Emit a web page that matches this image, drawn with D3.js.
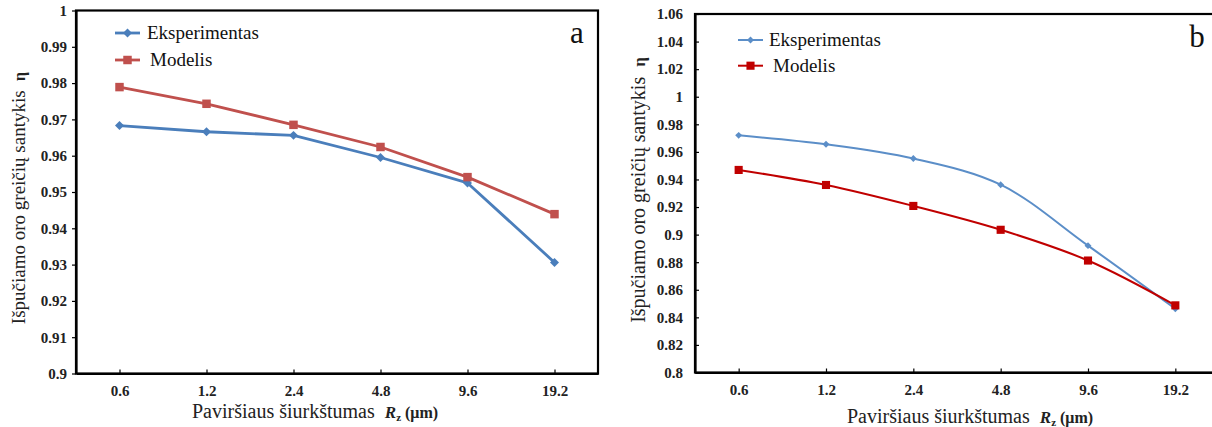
<!DOCTYPE html>
<html>
<head>
<meta charset="utf-8">
<script src="https://cdn.jsdelivr.net/npm/d3@7/dist/d3.min.js"></script>
<style>
  html, body { margin: 0; padding: 0; background: #fff; }
  svg { display: block; }
</style>
</head>
<body>
<svg id="chart" width="1212" height="427"></svg>
<script>
// ---- data ----
const categories = ["0.6", "1.2", "2.4", "4.8", "9.6", "19.2"];
const expA = [0.9683, 0.9666, 0.9656, 0.9595, 0.9525, 0.9306];
const modA = [0.9789, 0.9743, 0.9685, 0.9624, 0.9541, 0.9439];
const expB = [0.9720, 0.9655, 0.9552, 0.9362, 0.8920, 0.8462];
const modB = [0.9469, 0.9360, 0.9208, 0.9035, 0.8812, 0.8487];
const yTicksA = [0.9, 0.91, 0.92, 0.93, 0.94, 0.95, 0.96, 0.97, 0.98, 0.99, 1];
const yTicksB = [0.8, 0.82, 0.84, 0.86, 0.88, 0.9, 0.92, 0.94, 0.96, 0.98, 1, 1.02, 1.04, 1.06];
const seriesNames = ["Eksperimentas", "Modelis"];
const yTitle = "Išpučiamo oro greičių santykis";
const xTitle = "Paviršiaus šiurkštumas";
const panelLetters = ["a", "b"];

const FONT = "Liberation Serif";
const svg = d3.select("#chart");

function drawPanel(cfg) {
  const g = svg.append("g").attr("font-family", FONT);
  const x = d3.scalePoint().domain(categories).range([cfg.left, cfg.right]).padding(0.5);
  const y = d3.scaleLinear().domain(cfg.yDomain).range([cfg.bottom, cfg.top]);

  // frame
  g.append("rect")
    .attr("x", cfg.left).attr("y", cfg.top)
    .attr("width", cfg.right - cfg.left).attr("height", cfg.bottom - cfg.top)
    .attr("fill", "none").attr("stroke", "#000").attr("stroke-width", 2.2);

  // y axis
  const yAxis = d3.axisLeft(y).tickValues(cfg.yTicks)
    .tickFormat(d => String(+d.toFixed(2)))
    .tickSizeInner(cfg.yTickInward ? -4 : 4).tickSizeOuter(0).tickPadding(cfg.yTickInward ? 12 : 5);
  const ya = g.append("g").attr("transform", `translate(${cfg.left},0)`).call(yAxis)
    .attr("font-family", FONT);
  ya.select(".domain").attr("stroke", "#000").attr("stroke-width", 2.2);
  ya.selectAll(".tick line").attr("stroke", "#000").attr("stroke-width", 1.2);
  ya.selectAll(".tick text")
    .attr("fill", "#222").attr("font-size", 15).attr("font-weight", "bold");

  // x axis
  const xAxis = d3.axisBottom(x).tickSizeInner(-4).tickSizeOuter(0).tickPadding(12);
  const xa = g.append("g").attr("transform", `translate(0,${cfg.bottom})`).call(xAxis)
    .attr("font-family", FONT);
  xa.select(".domain").attr("stroke", "#000").attr("stroke-width", 2.2);
  xa.selectAll(".tick line").attr("stroke", "#000").attr("stroke-width", 1.2);
  xa.selectAll(".tick text")
    .attr("fill", "#222").attr("font-size", 15).attr("font-weight", "bold");

  // lines
  const line = d3.line()
    .x((d, i) => x(categories[i]))
    .y(d => y(d))
    .curve(cfg.smooth ? d3.curveCatmullRom.alpha(0.5) : d3.curveLinear);

  const series = [
    { values: cfg.exp, color: cfg.expColor, diamond: true, size: cfg.diamondSize, width: cfg.lineWidth },
    { values: cfg.mod, color: cfg.modColor, diamond: false, size: cfg.squareSize, width: cfg.lineWidth }
  ];
  const markerTransform = (s, px, py) =>
    `translate(${px},${py})` + (s.diamond ? " rotate(45)" : "");

  series.forEach(s => {
    g.append("path").datum(s.values)
      .attr("d", line).attr("fill", "none")
      .attr("stroke", s.color).attr("stroke-width", s.width)
      .attr("stroke-linejoin", "round");
  });
  series.forEach(s => {
    const sym = d3.symbol().type(d3.symbolSquare).size(s.size);
    g.selectAll(null).data(s.values).enter().append("path")
      .attr("d", sym)
      .attr("transform", (d, i) => markerTransform(s, x(categories[i]), y(d)))
      .attr("fill", s.color);
  });

  // legend
  series.forEach((s, i) => {
    const lg = cfg.legend[i];
    g.append("line")
      .attr("x1", lg.x1).attr("x2", lg.x2).attr("y1", lg.y).attr("y2", lg.y)
      .attr("stroke", s.color).attr("stroke-width", s.width);
    const sym = d3.symbol().type(d3.symbolSquare).size(s.size);
    g.append("path").attr("d", sym)
      .attr("transform", markerTransform(s, (lg.x1 + lg.x2) / 2, lg.y))
      .attr("fill", s.color);
    g.append("text").attr("x", lg.tx).attr("y", lg.y + 6)
      .attr("font-size", 19).attr("fill", "#111").text(seriesNames[i]);
  });

  // panel letter
  g.append("text").attr("x", cfg.letterX).attr("y", cfg.letterY)
    .attr("text-anchor", "middle").attr("font-size", 31).attr("fill", "#111")
    .text(cfg.letter);

  // y title
  const yt = g.append("text")
    .attr("transform", `translate(${cfg.yTitleX},${cfg.yTitleY}) rotate(-90)`)
    .attr("text-anchor", "middle").attr("font-size", cfg.yTitleSize).attr("fill", "#222");
  yt.append("tspan").text(yTitle + "\u00a0\u00a0");
  yt.append("tspan").attr("font-weight", "bold").attr("font-size", cfg.yTitleSize - 3).text("η");

  // x title
  const xt = g.append("text").attr("x", cfg.xTitleX).attr("y", cfg.xTitleY)
    .attr("font-size", 20).attr("fill", "#222");
  xt.append("tspan").text(xTitle + "\u00a0\u00a0");
  xt.append("tspan").attr("font-weight", "bold").attr("font-style", "italic").attr("font-size", 17).text("R");
  xt.append("tspan").attr("font-weight", "bold").attr("font-size", 11).attr("dy", 3).text("z");
  xt.append("tspan").attr("font-weight", "bold").attr("font-size", 16).attr("dy", -3).text("\u00a0(μm)");
}

drawPanel({
  left: 76, right: 598, top: 10.5, bottom: 373.5,
  yDomain: [0.9, 1], yTicks: yTicksA, yTickInward: false,
  exp: expA, mod: modA,
  expColor: "#4a7ebb", modColor: "#c0504d",
  lineWidth: 2.8, diamondSize: 40, squareSize: 72,
  smooth: false,
  legend: [
    { x1: 115, x2: 140, y: 33, tx: 147 },
    { x1: 115, x2: 140, y: 60, tx: 150 }
  ],
  letter: panelLetters[0], letterX: 577, letterY: 43,
  yTitleX: 25, yTitleY: 198, yTitleSize: 19,
  xTitleX: 192, xTitleY: 418
});

drawPanel({
  left: 695, right: 1219, top: 14, bottom: 372.5,
  yDomain: [0.8, 1.06], yTicks: yTicksB, yTickInward: true,
  exp: expB, mod: modB,
  expColor: "#5b8ec8", modColor: "#c00000",
  lineWidth: 2, diamondSize: 24, squareSize: 66,
  smooth: true,
  legend: [
    { x1: 738, x2: 763, y: 40, tx: 769 },
    { x1: 738, x2: 763, y: 65.7, tx: 773 }
  ],
  letter: panelLetters[1], letterX: 1197, letterY: 47,
  yTitleX: 645, yTitleY: 190, yTitleSize: 20,
  xTitleX: 847, xTitleY: 423
});
</script>
</body>
</html>
